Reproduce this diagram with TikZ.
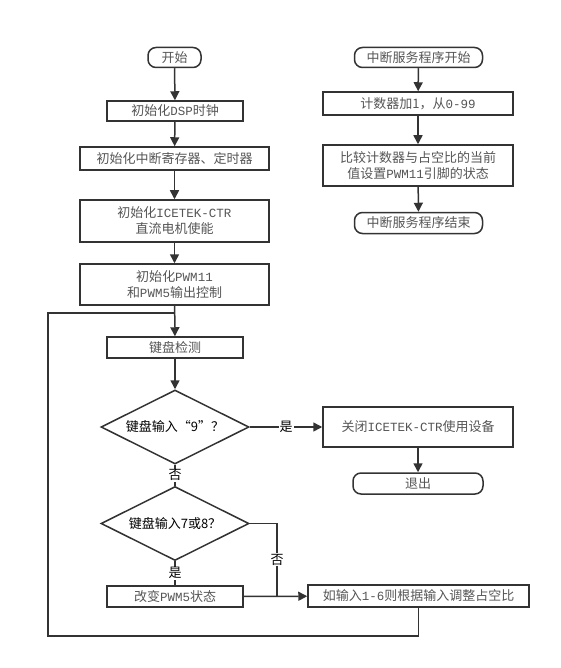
\documentclass[tikz,border=0pt]{standalone}
\usepackage{fontspec}
\setmainfont{Noto Sans CJK SC}
\newfontfamily\monofont{Liberation Mono}
\usepackage{tikz}
\usetikzlibrary{arrows.meta,shapes.geometric}
\definecolor{linecol}{HTML}{333333}
\definecolor{textcol}{HTML}{555555}
\newcommand{\lat}[1]{{\monofont\fontsize{12.5}{16}\selectfont #1}}
\tikzset{procbox/.style={draw=linecol,line width=1.5pt,rectangle,inner sep=0pt,
		align=center,text=textcol,font=\fontsize{13}{16}\selectfont},
	termbox/.style={procbox,rounded corners=8pt},
	choice/.style={draw=linecol,line width=1.5pt,diamond,aspect=2,inner sep=0pt,
		minimum width=148pt,minimum height=74pt,text=black,font=\fontsize{13}{16}\selectfont},
	link/.style={draw=linecol,line width=1.5pt},
	flow/.style={link,-{Triangle[length=9pt,width=9pt]}},
	tag/.style={fill=white,inner sep=1pt,text=black,font=\fontsize{13}{14}\selectfont}}

\begin{document}
\begin{tikzpicture}[x=1pt,y=-1pt]
		\useasboundingbox (0,0) rectangle (560,668);
		%		main program
		\node[termbox, minimum width=53pt, minimum height=20pt] (start) at (174.5,57.5){开始};
		\node[procbox, minimum width=136pt, minimum height=20pt] (dsp) at (175,111){初始化\lat{DSP}时钟};
		\node[procbox, minimum width=189pt, minimum height=23pt] (intr) at (174.5,158.5){初始化中断寄存器、定时器};
		\node[procbox, minimum width=189pt, minimum height=42pt] (ctr) at (174.5,221){初始化\lat{ICETEK-CTR}\\直流电机使能};
		\node[procbox, minimum width=189pt, minimum height=41pt] (pwm) at (174.5,284.5){初始化\lat{PWM11}\\和\lat{PWM5}输出控制};
		\node[procbox, minimum width=136pt, minimum height=21pt] (key) at (175,347.5){键盘检测};
		\node[choice] (ask9) at (175,427){键盘输入“9”？};
		\node[choice] (ask78) at (175,523.5){键盘输入7或8？};
		\node[procbox, minimum width=136pt, minimum height=21pt] (chg) at (175,596.5){改变\lat{PWM5}状态};
		\node[procbox, minimum width=221pt, minimum height=22pt] (adj) at (418.5,596){如输入\lat{1-6}则根据输入调整占空比};
		\node[procbox, minimum width=190pt, minimum height=40pt] (off) at (418,427){关闭\lat{ICETEK-CTR}使用设备};
		\node[termbox, minimum width=130pt, minimum height=21pt] (quit) at (418,483.5){退出};
		%		interrupt routine
		\node[termbox, minimum width=128pt, minimum height=20pt] (isr) at (418.5,57.5){中断服务程序开始};
		\node[procbox, minimum width=190pt, minimum height=23pt] (cnt) at (418,103.5){计数器加1，从\lat{0-99}};
		\node[procbox, minimum width=190pt, minimum height=41pt] (cmp) at (418,165.5){比较计数器与占空比的当前\\值设置\lat{PWM11}引脚的状态};
		\node[termbox, minimum width=128pt, minimum height=21pt] (isrend) at (418.5,223){中断服务程序结束};
		\coordinate (jn) at (277,596);
		\coordinate (back) at (175,313);
		\coordinate (lb) at (48,636);
		\coordinate (lt) at (48,313);
		\draw[flow] (start) -- (dsp);
		\draw[flow] (dsp) -- (intr);
		\draw[flow] (intr) -- (ctr);
		\draw[flow] (ctr) -- (pwm);
		\draw[flow] (pwm) -- (key);
		\draw[flow] (key) -- (ask9);
		\draw[flow] (ask9) to node[tag]{是} (off);
		\draw[flow] (off) -- (quit);
		\draw[link] (ask9) to node[tag]{否} (ask78);
		\draw[link] (ask78) to node[tag]{是} (chg);
		\draw[link] (ask78.east) -| node[tag, pos=0.75]{否} (jn);
		\draw[flow] (chg) -- (adj);
		\draw[link] (adj.south) |- (lb) -- (lt) -- (back);
		\draw[flow] (isr) -- (cnt);
		\draw[flow] (cnt) -- (cmp);
		\draw[flow] (cmp) -- (isrend);
		\end{tikzpicture}
\end{document}
